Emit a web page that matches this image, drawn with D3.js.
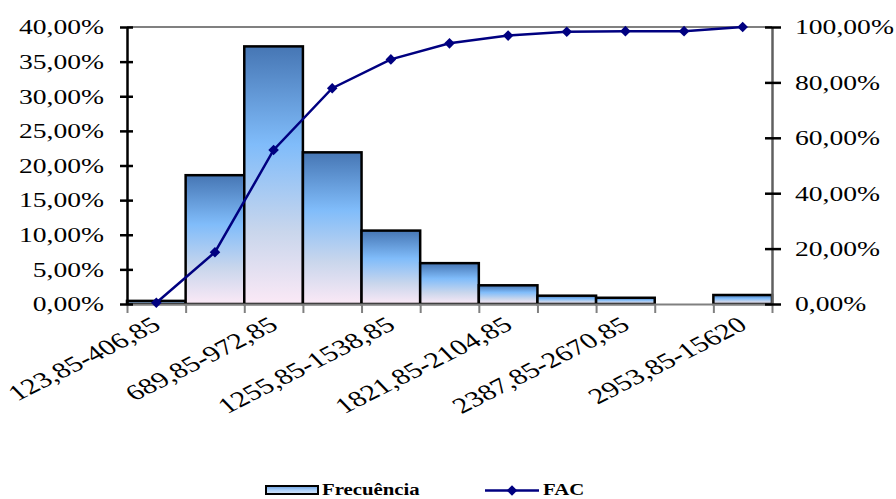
<!DOCTYPE html>
<html>
<head>
<meta charset="utf-8">
<script src="https://cdn.jsdelivr.net/npm/d3@7/dist/d3.min.js"></script>
<style>
  html, body { margin: 0; padding: 0; background: #fff; }
  svg { display: block; }
  text { font-family: "Liberation Serif", "Times New Roman", serif; fill: #000; }
</style>
</head>
<body>
<svg id="chart" width="896" height="499"></svg>
<script>
// Class intervals (histogram bins)
const categories = [
  "123,85-406,85", "406,85-689,85", "689,85-972,85", "972,85-1255,85",
  "1255,85-1538,85", "1538,85-1821,85", "1821,85-2104,85", "2104,85-2387,85",
  "2387,85-2670,85", "2670,85-2953,85", "2953,85-15620"
];
// Relative frequency per bin (%)
const frecuencia = [0.45, 18.6, 37.2, 21.9, 10.6, 5.9, 2.7, 1.2, 0.9, 0, 1.3];
// Cumulative frequency (%)
const fac = [0.45, 18.7, 55.6, 77.9, 88.3, 94.1, 96.9, 98.3, 98.5, 98.5, 100];
// Axis tick values
const leftTicks = [0, 5, 10, 15, 20, 25, 30, 35, 40];
const rightTicks = [0, 20, 40, 60, 80, 100];
// Every other bin gets a label on the category axis
const labelledCategories = categories.filter((d, i) => i % 2 === 0);

const svg = d3.select("#chart");
const plotLeft = 127, plotRight = 772, plotTop = 27, plotBottom = 304;
const stretch = 1.38;

const x = d3.scaleBand().domain(categories).range([plotLeft, plotRight]).padding(0);
const xEdge = d3.scaleLinear().domain([0, categories.length]).range([plotLeft, plotRight]);
const y = d3.scaleLinear().domain([0, 40]).range([plotBottom, plotTop]);
const y2 = d3.scaleLinear().domain([0, 100]).range([plotBottom, plotTop]);
const pct = d => d3.format(".2f")(d).replace(".", ",") + "%";

// Gradients
const defs = svg.append("defs");
const g1 = defs.append("linearGradient").attr("id", "barFill")
  .attr("x1", 0).attr("y1", 0).attr("x2", 0).attr("y2", 1);
[[0, "#4676b4"], [0.38, "#80bcfa"], [0.72, "#c9d6ec"], [1, "#fbe9f6"]]
  .forEach(([o, c]) => g1.append("stop").attr("offset", o).attr("stop-color", c));
const g2 = defs.append("linearGradient").attr("id", "legendFill")
  .attr("x1", 0).attr("y1", 0).attr("x2", 0).attr("y2", 1);
[[0, "#6d9fdc"], [0.5, "#a9d0fb"], [1, "#d9e6f6"]]
  .forEach(([o, c]) => g2.append("stop").attr("offset", o).attr("stop-color", c));

// Top frame line
svg.append("line").attr("x1", plotLeft).attr("x2", plotRight).attr("y1", plotTop).attr("y2", plotTop)
  .attr("stroke", "#808080").attr("stroke-width", 2);

// Bars
svg.append("g").selectAll("rect").data(frecuencia).join("rect")
  .attr("x", (d, i) => x(categories[i]))
  .attr("width", x.bandwidth())
  .attr("y", d => y(d))
  .attr("height", d => plotBottom - y(d))
  .attr("fill", "url(#barFill)")
  .attr("stroke", d => d > 0 ? "#000" : "none")
  .attr("stroke-width", 2.5);

// Category axis: boundary ticks
const xTicks = svg.append("g").attr("transform", `translate(0,${plotBottom})`)
  .call(d3.axisBottom(xEdge).tickValues(d3.range(categories.length + 1))
    .tickFormat("").tickSizeInner(9).tickSizeOuter(0));
xTicks.select(".domain").attr("stroke", "#808080").attr("stroke-width", 2);
xTicks.selectAll(".tick line").attr("stroke", "#808080").attr("stroke-width", 2);

// Category labels
const xLab = svg.append("g").attr("transform", `translate(0,${plotBottom})`)
  .call(d3.axisBottom(x).tickValues(labelledCategories).tickSize(0));
xLab.select(".domain").remove();
xLab.selectAll("text")
  .attr("y", null).attr("dy", null)
  .attr("font-size", 22)
  .attr("text-anchor", "end")
  .attr("transform", `translate(6,24) scale(${stretch},1) rotate(-35)`);

// Left axis
const yl = svg.append("g").attr("transform", `translate(${plotLeft},0)`)
  .call(d3.axisLeft(y).tickValues(leftTicks).tickFormat(pct).tickSizeOuter(0));
yl.select(".domain").attr("stroke", "#000").attr("stroke-width", 2.5);
yl.selectAll(".tick line").attr("x1", 6).attr("x2", -7).attr("stroke", "#000").attr("stroke-width", 2.5);
yl.selectAll(".tick text").attr("x", null).attr("dy", "0.34em")
  .attr("font-size", 20)
  .attr("transform", `translate(-23,0) scale(${stretch},1)`);

// Right axis
const yr = svg.append("g").attr("transform", `translate(${plotRight},0)`)
  .call(d3.axisRight(y2).tickValues(rightTicks).tickFormat(pct).tickSizeOuter(0));
yr.select(".domain").attr("stroke", "#606060").attr("stroke-width", 2.5);
yr.selectAll(".tick line").attr("x1", -7).attr("x2", 9).attr("stroke", "#000").attr("stroke-width", 2.5);
yr.selectAll(".tick text").attr("x", null).attr("dy", "0.34em")
  .attr("font-size", 20).attr("text-anchor", "start")
  .attr("transform", `translate(23,0) scale(${stretch},1)`);

// Cumulative line
const line = d3.line()
  .x((d, i) => x(categories[i]) + x.bandwidth() / 2)
  .y(d => y2(d));
svg.append("path").datum(fac).attr("d", line)
  .attr("fill", "none").attr("stroke", "#000080").attr("stroke-width", 2.5);
const diamond = d3.symbol(d3.symbolSquare, 56);
svg.append("g").selectAll("path").data(fac).join("path")
  .attr("d", diamond)
  .attr("transform", (d, i) => `translate(${x(categories[i]) + x.bandwidth() / 2},${y2(d)}) rotate(45)`)
  .attr("fill", "#000080");

// Legend
const lg = svg.append("g");
lg.append("rect").attr("x", 266).attr("y", 486).attr("width", 52).attr("height", 8)
  .attr("fill", "url(#legendFill)").attr("stroke", "#000").attr("stroke-width", 2);
lg.append("text").attr("font-size", 16).attr("font-weight", "bold")
  .attr("transform", `translate(322,495) scale(1.3,1)`).text("Frecuência");
lg.append("line").attr("x1", 485).attr("x2", 539).attr("y1", 490.5).attr("y2", 490.5)
  .attr("stroke", "#000080").attr("stroke-width", 2.5);
lg.append("path").attr("d", diamond)
  .attr("transform", "translate(512,490.5) rotate(45)").attr("fill", "#000080");
lg.append("text").attr("font-size", 16).attr("font-weight", "bold")
  .attr("transform", `translate(543,495) scale(1.3,1)`).text("FAC");
</script>
</body>
</html>
